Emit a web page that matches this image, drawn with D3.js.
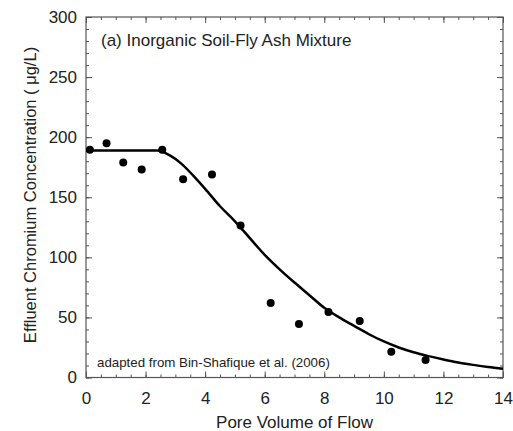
<!DOCTYPE html>
<html><head><meta charset="utf-8">
<script src="https://cdn.jsdelivr.net/npm/d3@7"></script>
<style>body{margin:0;background:#fff}svg text{font-family:"Liberation Sans",Arial,sans-serif;fill:#222}</style>
</head><body><svg id="c" width="513" height="431"></svg>
<script>
const obsX = [0.13, 0.69, 1.25, 1.87, 2.56, 3.26, 4.23, 5.19, 6.2, 7.15, 8.14, 9.19, 10.25, 11.4];
const obsY = [189.5, 195, 179, 173, 189.5, 165, 169, 126.5, 62, 44.5, 54.5, 47, 21.5, 14.5];
const fitX = [0, 0.5, 1, 1.5, 2, 2.4, 2.8, 3.2, 3.6, 4, 4.5, 5, 5.5, 6, 6.5, 7, 7.5, 8, 8.5, 9, 9.5, 10, 10.5, 11, 11.5, 12, 12.5, 13, 13.5, 14];
const fitY = [189, 189, 189, 189, 189, 189, 185, 178, 168, 157, 142.5, 130, 116, 102, 90, 79, 68.5, 58, 50, 43, 36, 30, 25, 21, 17.8, 15, 12.5, 10.5, 8.7, 7.2];
const xTicks = [0, 2, 4, 6, 8, 10, 12, 14];
const yTicks = [0, 50, 100, 150, 200, 250, 300];

const L = 86, R = 503, T = 17, B = 377.5;
const svg = d3.select("#c");
const x = d3.scaleLinear().domain([0, 14]).range([L, R]);
const y = d3.scaleLinear().domain([0, 300]).range([B, T]);
const frame = "#555";
const FS = 17;

const xMinor = d3.range(0, 14.01, 0.5);
const yMinor = d3.range(0, 300.1, 10);

// bottom axis
svg.append("g").attr("transform", `translate(0,${B})`)
  .call(d3.axisBottom(x).tickValues(xMinor).tickSize(-3).tickFormat(""));
const gB2 = svg.append("g").attr("transform", `translate(0,${B})`)
  .call(d3.axisBottom(x).tickValues(xTicks).tickSize(-6).tickPadding(14).tickFormat(d3.format("d")));
gB2.selectAll("text").attr("font-size", FS).attr("y", 26).attr("dy", null);
// top axis
svg.append("g").attr("transform", `translate(0,${T})`)
  .call(d3.axisTop(x).tickValues(xMinor).tickSize(-3).tickFormat(""));
svg.append("g").attr("transform", `translate(0,${T})`)
  .call(d3.axisTop(x).tickValues(xTicks).tickSize(-6).tickFormat(""));
// left axis
svg.append("g").attr("transform", `translate(${L},0)`)
  .call(d3.axisLeft(y).tickValues(yMinor).tickSize(-3).tickFormat(""));
const gL2 = svg.append("g").attr("transform", `translate(${L},0)`)
  .call(d3.axisLeft(y).tickValues(yTicks).tickSize(-6).tickPadding(9).tickFormat(d3.format("d")));
gL2.selectAll("text").attr("font-size", FS);
// right axis
svg.append("g").attr("transform", `translate(${R},0)`)
  .call(d3.axisRight(y).tickValues(yMinor).tickSize(-3).tickFormat(""));
svg.append("g").attr("transform", `translate(${R},0)`)
  .call(d3.axisRight(y).tickValues(yTicks).tickSize(-6).tickFormat(""));

svg.selectAll(".domain").remove();
svg.selectAll(".tick line").attr("stroke", frame);
svg.selectAll(".tick text").attr("fill", "#222").attr("font-family", '"Liberation Sans",Arial,sans-serif');
svg.append("rect").attr("x", L).attr("y", T).attr("width", R - L).attr("height", B - T)
  .attr("fill", "none").attr("stroke", frame).attr("stroke-width", 1.2);

// fit line
const line = d3.line().x((d, i) => x(fitX[i])).y(d => y(d)).curve(d3.curveMonotoneX);
svg.append("path").datum(fitY).attr("d", line).attr("fill", "none")
  .attr("stroke", "#000").attr("stroke-width", 2.5);

// points
svg.append("g").selectAll("circle").data(obsY).join("circle")
  .attr("cx", (d, i) => x(obsX[i])).attr("cy", d => y(d)).attr("r", 4).attr("fill", "#000");

// labels
svg.append("text").attr("x", 101).attr("y", 46).attr("font-size", FS)
  .text("(a) Inorganic Soil-Fly Ash Mixture");
svg.append("text").attr("x", 97).attr("y", 367).attr("font-size", 13.3)
  .text("adapted from Bin-Shafique et al. (2006)");
svg.append("text").attr("x", (L + R) / 2).attr("y", 428).attr("font-size", FS)
  .attr("text-anchor", "middle").text("Pore Volume of Flow");
svg.append("text").attr("transform", `translate(36,195) rotate(-90)`).attr("font-size", 16.5)
  .attr("text-anchor", "middle").text("Effluent Chromium Concentration ( \u03BCg/L)");
</script></body></html>
